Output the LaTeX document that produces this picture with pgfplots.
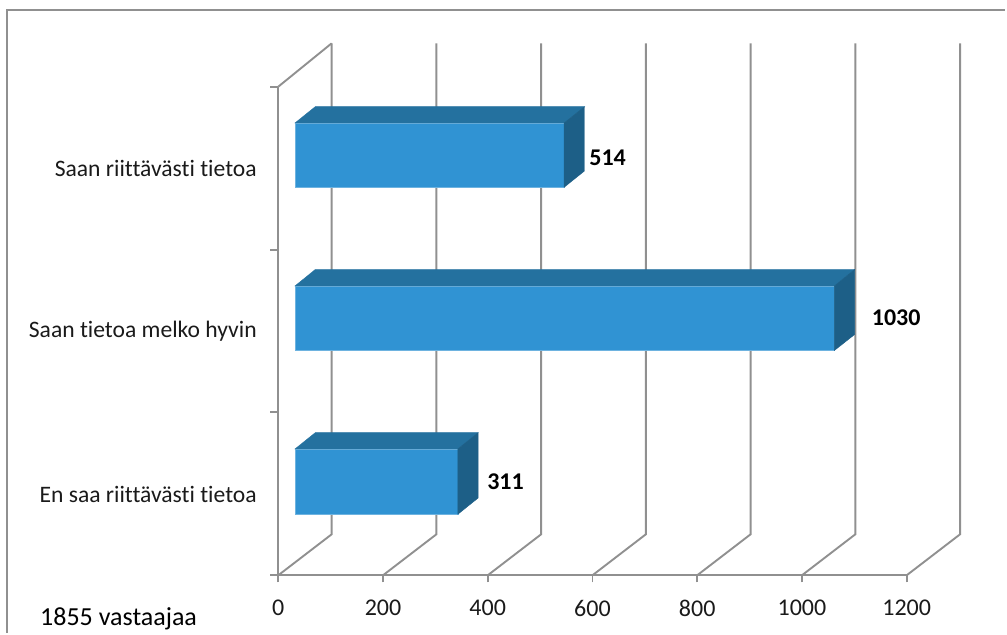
\documentclass[border=0pt]{standalone}
\usepackage{pgfplots}
\pgfplotsset{compat=1.18}
\usepackage{fontspec}
\setmainfont{Carlito}[Ligatures=NoCommon]
\definecolor{gridc}{HTML}{909090}
\definecolor{barfront}{HTML}{3093D3}
\definecolor{bartop}{HTML}{24719F}
\definecolor{barside}{HTML}{1D5F87}
\definecolor{txt}{HTML}{1A1A1A}
\begin{document}
\begin{tikzpicture}
\begin{axis}[
  scale only axis, width=628.4pt, height=488.6pt,
  xmin=0, xmax=1200, ymin=0, ymax=488.6,
  clip=false,
  axis lines=left, axis line style={-, gridc, line width=1.9pt},
  xtick={0,200,400,600,800,1000,1200},
  ytick={80,243,406},
  yticklabels={En saa riittävästi tietoa,Saan tietoa melko hyvin,Saan riittävästi tietoa},
  minor ytick={0,162.9,325.7,488.6},
  major tick length=7pt, minor tick length=8pt,
  tick style={gridc, line width=1.9pt},
  ytick style={draw=none},
  minor y tick style={draw=gridc, line width=1.9pt},
  tick pos=lower,
  tick align=outside,
  /pgf/number format/assume math mode=true,
  /pgf/number format/1000 sep={},
  xticklabel style={font=\fontsize{24}{28}\selectfont, text=txt, yshift=-14pt},
  yticklabel style={font=\fontsize{23.6}{27}\selectfont, text=txt, xshift=-11pt, yshift=0.6pt},
]
% back wall and floor lines
\foreach \v/\b in {0/102,200/302,400/502,600/702,800/902,1000/1102,1200/1302}{
  \edef\tmp{\noexpand\addplot[gridc, line width=1.9pt, forget plot] coordinates {(\v,0) (\b,41) (\b,532)};}
  \tmp
}
\addplot[gridc, line width=1.9pt, forget plot] coordinates {(0,488.6) (102,532)};
% bar 311
\addplot[fill=barfront, draw=barfront!70!white, line width=0.4pt] coordinates {(31.9,61) (342.9,61) (342.9,126.3) (31.9,126.3)} --cycle;
\addplot[fill=bartop, draw=bartop] coordinates {(31.9,126.3) (342.9,126.3) (381.7,142.6) (70.7,142.6)} --cycle;
\addplot[fill=barside, draw=barside] coordinates {(342.9,61) (381.7,77.3) (381.7,142.6) (342.9,126.3)} --cycle;
% bar 1030
\addplot[fill=barfront, draw=barfront!70!white, line width=0.4pt] coordinates {(31.9,224.8) (1061.9,224.8) (1061.9,289.3) (31.9,289.3)} --cycle;
\addplot[fill=bartop, draw=bartop] coordinates {(31.9,289.3) (1061.9,289.3) (1100.7,305.8) (70.7,305.8)} --cycle;
\addplot[fill=barside, draw=barside] coordinates {(1061.9,224.8) (1100.7,240.8) (1100.7,305.8) (1061.9,289.3)} --cycle;
% bar 514
\addplot[fill=barfront, draw=barfront!70!white, line width=0.4pt] coordinates {(31.9,388) (545.9,388) (545.9,452.3) (31.9,452.3)} --cycle;
\addplot[fill=bartop, draw=bartop] coordinates {(31.9,452.3) (545.9,452.3) (584.7,468.6) (70.7,468.6)} --cycle;
\addplot[fill=barside, draw=barside] coordinates {(545.9,388) (584.7,404.3) (584.7,468.6) (545.9,452.3)} --cycle;
% value labels
\node[font=\fontsize{24}{28}\selectfont\bfseries, text=black] at (axis cs:434,94) {311};
\node[font=\fontsize{24}{28}\selectfont\bfseries, text=black] at (axis cs:1180,258) {1030};
\node[font=\fontsize{24}{28}\selectfont\bfseries, text=black] at (axis cs:629,418) {514};
% note
\node[font=\fontsize{26}{30}\selectfont, text=black, anchor=west, inner sep=0pt] at (axis cs:-455,-43) {1855 vastaajaa};
% frame
\draw[gridc, line width=2.2pt] (axis cs:-518,-57.7) -- (axis cs:-518,565) -- (axis cs:1388,565);
% page
\path (axis cs:-531.4,-57.7) rectangle (axis cs:1391.6,575.3);
\end{axis}
\end{tikzpicture}
\end{document}
